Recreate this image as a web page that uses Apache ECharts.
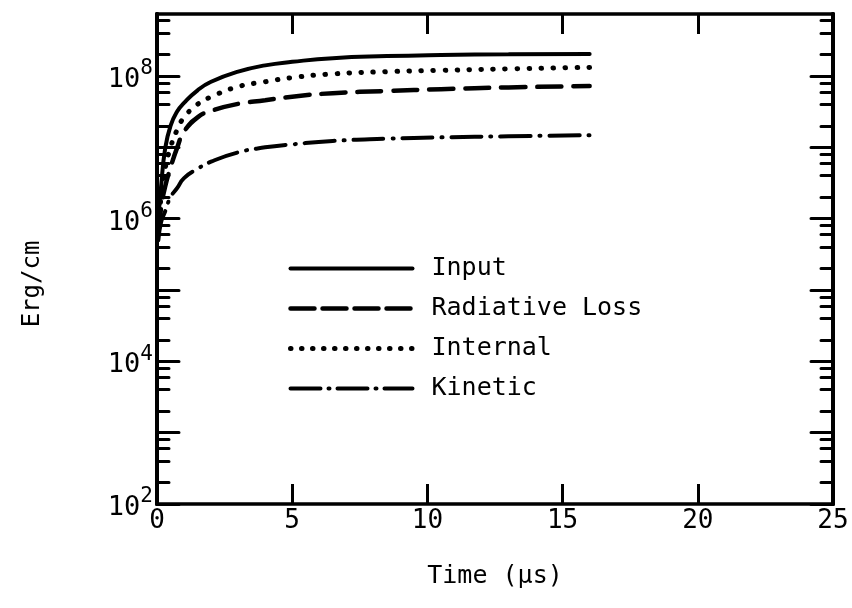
<!DOCTYPE html>
<html>
<head>
<meta charset="utf-8">
<script src="https://cdn.jsdelivr.net/npm/echarts@6/dist/echarts.min.js"></script>
<style>
  html, body { margin: 0; padding: 0; background: #fff; }
  #chart { width: 852px; height: 608px; }
</style>
</head>
<body>
<div id="chart"></div>
<script>
// Energy per unit length (erg/cm) versus time (µs)
const seriesNames = ['Input', 'Radiative Loss', 'Internal', 'Kinetic'];
const timeUs = [0.05, 0.15, 0.3, 0.5, 0.75, 1, 1.5, 2, 3, 4, 5, 6.5, 8.5, 10.5, 13, 16];
const inputErg = [1.0e6, 2.8e6, 9.5e6, 2.0e7, 3.2e7, 4.2e7, 6.3e7, 8.3e7, 1.15e8, 1.41e8, 1.58e8, 1.78e8, 1.9e8, 1.97e8, 2.02e8, 2.04e8];
const radiativeErg = [6.3e5, 1.4e6, 2.8e6, 5.2e6, 1.0e7, 1.66e7, 2.63e7, 3.24e7, 4.07e7, 4.57e7, 5.13e7, 5.75e7, 6.17e7, 6.53e7, 6.92e7, 7.24e7];
const internalErg = [7.9e5, 2.0e6, 5.0e6, 1.0e7, 1.78e7, 2.63e7, 4.0e7, 5.1e7, 7.1e7, 8.3e7, 9.5e7, 1.07e8, 1.15e8, 1.2e8, 1.26e8, 1.32e8];
const kineticErg = [5.0e5, 8.9e5, 1.26e6, 2.0e6, 2.7e6, 3.7e6, 5.0e6, 6.3e6, 8.5e6, 1.0e7, 1.1e7, 1.23e7, 1.32e7, 1.38e7, 1.43e7, 1.48e7];

// Axis ticks and labels
const xTicks = [0, 5, 10, 15, 20, 25];
const yLabelValues = [1e2, 1e4, 1e6, 1e8];
const yDecades = [1e2, 1e3, 1e4, 1e5, 1e6, 1e7, 1e8];
const yMinorMantissas = [2, 4, 6, 8];
const yMin = 1e2;
const yMax = 7.4e8;

const yMinorValues = [];
yDecades.forEach(d => yMinorMantissas.forEach(m => {
  if (d * m < yMax) yMinorValues.push(d * m);
}));

const FONT = '"DejaVu Sans Mono", "Liberation Mono", monospace';
const INK = '#000';

// Line styles shared by the curves and their legend samples
const styles = [
  { width: 4, type: 'solid', legendType: 'solid' },
  { width: 4.5, type: [24, 12], legendType: [24, 8] },
  { width: 5, type: [0.5, 11.5], legendType: [0.5, 10.5] },
  { width: 4, type: [30, 9, 1, 9], legendType: [30, 8, 1, 8] }
];
const seriesValues = [inputErg, radiativeErg, internalErg, kineticErg];

function pairs(vals) { return timeUs.map((t, i) => [t, vals[i]]); }

function logAxis(position, ticks, tickLen, withLabels) {
  return {
    type: 'log',
    logBase: 10,
    position: position,
    min: yMin,
    max: yMax,
    axisLine: { show: true, lineStyle: { color: INK, width: 4 } },
    axisTick: {
      show: true, inside: true, length: tickLen, customValues: ticks,
      lineStyle: { color: INK, width: 3, cap: 'round' }
    },
    minorTick: { show: false },
    splitLine: { show: false },
    axisLabel: withLabels ? {
      show: true,
      customValues: yLabelValues,
      margin: 4,
      formatter: v => '{b|10}{s|' + Math.round(Math.log10(v)) + '}',
      rich: {
        b: { fontFamily: FONT, fontSize: 27, color: INK, padding: [8, 0, 0, 0] },
        s: { fontFamily: FONT, fontSize: 21, color: INK, padding: [0, 0, 14, 0] }
      }
    } : { show: false },
    name: withLabels ? 'Erg/cm' : '',
    nameLocation: 'middle',
    nameGap: 112,
    nameRotate: 90,
    nameTextStyle: { fontFamily: FONT, fontSize: 24, color: INK, padding: [0, 0, 0, -50] }
  };
}

const chart = echarts.init(document.getElementById('chart'), null, { renderer: 'canvas' });

chart.setOption({
  backgroundColor: '#fff',
  animation: false,
  grid: { left: 157, right: 19, top: 14, bottom: 104, containLabel: false },
  xAxis: [
    {
      type: 'value', position: 'bottom', min: 0, max: 25, interval: 5,
      axisLine: { lineStyle: { color: INK, width: 3.5 } },
      axisTick: { inside: true, length: 20, customValues: xTicks, lineStyle: { color: INK, width: 3 } },
      splitLine: { show: false },
      axisLabel: { fontFamily: FONT, fontSize: 26, color: INK, margin: 4 },
      name: 'Time (μs)', nameLocation: 'middle', nameGap: 60,
      nameTextStyle: { fontFamily: FONT, fontSize: 25, color: INK }
    },
    {
      type: 'value', position: 'top', min: 0, max: 25, interval: 5,
      axisLine: { lineStyle: { color: INK, width: 3.5 } },
      axisTick: { inside: true, length: 20, customValues: xTicks, lineStyle: { color: INK, width: 3 } },
      splitLine: { show: false },
      axisLabel: { show: false }
    }
  ],
  yAxis: [
    logAxis('left', yDecades, 22, true),
    logAxis('left', yMinorValues, 12, false),
    logAxis('right', yDecades, 22, false),
    logAxis('right', yMinorValues, 12, false)
  ],
  legend: {
    orient: 'vertical',
    left: 283, top: 251,
    itemWidth: 122, itemHeight: 30, itemGap: 15,
    itemStyle: { opacity: 0 },
    data: seriesNames.map((n, i) => ({
      name: n,
      itemStyle: { opacity: 0 },
      lineStyle: { color: INK, width: styles[i].width, type: styles[i].legendType, cap: 'round', opacity: 1 }
    })),
    textStyle: { fontFamily: FONT, fontSize: 25, color: INK, padding: [0, 0, 0, 14] },
    selectedMode: false
  },
  series: seriesNames.map((n, i) => ({
    name: n, type: 'line', smooth: true, showSymbol: false, symbol: 'none',
    color: INK,
    data: pairs(seriesValues[i]),
    lineStyle: { color: INK, width: styles[i].width, cap: 'round', type: styles[i].type }
  }))
});
</script>
</body>
</html>
